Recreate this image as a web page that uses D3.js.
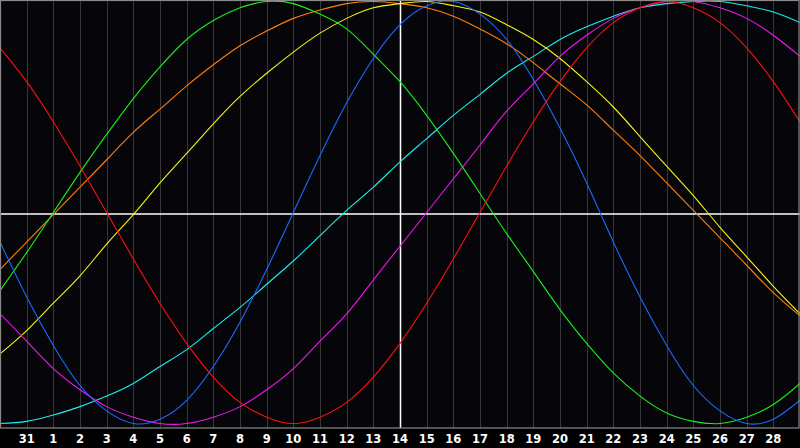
<!DOCTYPE html>
<html>
<head>
<meta charset="utf-8">
<script src="https://cdn.jsdelivr.net/npm/d3@7"></script>
<style>
    html, body { margin: 0; padding: 0; background: #000; }
    svg { display: block; }
</style>
</head>
<body>
<div class="graph-container"></div>
<script>
// day labels, one per grid column (first and last are off the frame)
const days = ['30', '31', '1', '2', '3', '4', '5', '6', '7', '8', '9', '10', '11', '12', '13', '14',
    '15', '16', '17', '18', '19', '20', '21', '22', '23', '24', '25', '26', '27', '28', '1'];
const todayIndex = 15;

// cycle values (-100..100) at each day
const physical = [-14, -40, -63, -82, -94, -100, -98, -89, -73, -52, -27, 0, 27, 52, 73, 89, 98, 100, 94, 82, 63, 40, 14, -14, -40, -63, -82, -94, -100, -98, -89];
const emotional = [78, 62, 43, 22, 0, -22, -43, -62, -78, -90, -97, -100, -97, -90, -78, -62, -43, -22, 0, 22, 43, 62, 78, 90, 97, 100, 97, 90, 78, 62, 43];
const intellectual = [-37, -19, 0, 19, 37, 54, 69, 82, 91, 97, 100, 99, 94, 87, 75, 62, 46, 28, 9, -10, -28, -46, -62, -76, -87, -95, -99, -100, -97, -91, -81];
const intuitive = [-48, -61, -74, -84, -92, -97, -100, -100, -97, -92, -84, -74, -61, -48, -32, -16, 0, 16, 32, 48, 61, 74, 84, 92, 97, 100, 100, 97, 92, 84, 74];
const aesthetic = [-67, -56, -43, -30, -15, -1, 14, 28, 42, 55, 66, 76, 85, 92, 97, 99, 100, 98, 95, 89, 82, 73, 62, 50, 36, 22, 8, -7, -21, -35, -48];
const awareness = [-27, -14, -1, 12, 25, 38, 49, 60, 70, 79, 86, 92, 96, 99, 100, 99, 97, 93, 87, 80, 71, 61, 51, 39, 27, 14, 1, -12, -25, -38, -49];
const spiritual = [-100, -99, -96, -92, -87, -81, -73, -65, -55, -45, -34, -23, -11, 1, 12, 24, 35, 46, 56, 66, 74, 82, 88, 93, 97, 99, 100, 100, 98, 95, 90];

const series = [
    { name: 'spiritual', values: spiritual, color: '#19f0f0' },
    { name: 'awareness', values: awareness, color: '#ff7f10' },
    { name: 'aesthetic', values: aesthetic, color: '#f5f516' },
    { name: 'intuitive', values: intuitive, color: '#f019f0' },
    { name: 'intellectual', values: intellectual, color: '#19f019' },
    { name: 'physical', values: physical, color: '#1a6cff' },
    { name: 'emotional', values: emotional, color: '#ff1010' }
];

const [width, height] = [800, 448];
const plotH = 428;

const x = d3.scaleLinear().domain([0, days.length - 1]).range([0, width]);
const y = d3.scaleLinear().domain([-100, 100]).range([423.5, 1.5]);

const svg = d3.select('div.graph-container')
    .append('svg')
    .attr('width', width)
    .attr('height', height);

svg.append('rect')
    .attr('width', width)
    .attr('height', height)
    .attr('fill', '#000');

svg.append('rect')
    .attr('width', width)
    .attr('height', plotH)
    .attr('fill', '#060509');

// day grid
svg.append('g')
    .selectAll('line')
    .data(d3.range(1, days.length - 1))
    .enter()
    .append('line')
    .attr('x1', d => Math.round(x(d)) + 0.5)
    .attr('x2', d => Math.round(x(d)) + 0.5)
    .attr('y1', 0)
    .attr('y2', plotH)
    .attr('stroke', '#38373a')
    .attr('stroke-width', 1);

// today + zero line
svg.append('line')
    .attr('x1', 0).attr('x2', width)
    .attr('y1', plotH / 2).attr('y2', plotH / 2)
    .attr('stroke', '#fff')
    .attr('stroke-width', 1.5);
svg.append('line')
    .attr('x1', x(todayIndex) + 0.5).attr('x2', x(todayIndex) + 0.5)
    .attr('y1', 0).attr('y2', plotH)
    .attr('stroke', '#fff')
    .attr('stroke-width', 1.5);

// cycles
const lineGen = d3.line()
    .x((d, i) => x(i))
    .y(d => y(d))
    .curve(d3.curveNatural);

svg.append('g')
    .selectAll('path')
    .data(series)
    .enter()
    .append('path')
    .attr('d', d => lineGen(d.values))
    .attr('fill', 'none')
    .attr('stroke', d => d.color)
    .attr('stroke-width', 1.1);

// frame
svg.append('rect')
    .attr('x', 0.5)
    .attr('y', 0.5)
    .attr('width', width - 1.5)
    .attr('height', plotH - 0.5)
    .attr('fill', 'none')
    .attr('stroke', '#8a8a8a')
    .attr('stroke-width', 1.2);

// day labels
svg.append('g')
    .selectAll('text')
    .data(d3.range(1, days.length - 1))
    .enter()
    .append('text')
    .attr('x', d => x(d))
    .attr('y', 443)
    .attr('text-anchor', 'middle')
    .attr('fill', '#fff')
    .style('font', 'bold 11.5px "DejaVu Sans", Verdana, sans-serif')
    .text(d => days[d]);
</script>
</body>
</html>
